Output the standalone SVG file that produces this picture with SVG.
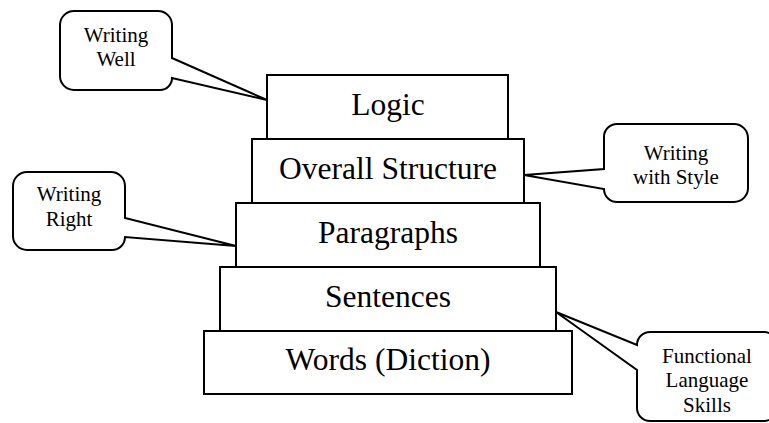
<svg xmlns="http://www.w3.org/2000/svg" width="769" height="423" viewBox="0 0 769 423">
<style>
.box{fill:#fff;stroke:#000;stroke-width:2}
.call{fill:#fff;stroke:#000;stroke-width:2;stroke-linejoin:miter}
.bt{font-size:31.5px;text-anchor:middle;fill:#000}
.ct{font-size:21px;text-anchor:middle;fill:#000}
</style>
<rect width="769" height="423" fill="#fff"/>
<g font-family="Liberation Serif, serif">
<g id="pyramid">
<g id="logic"><rect class="box" x="267" y="75" width="241" height="64"/><text class="bt" x="388" y="115">Logic</text></g>
<g id="overall"><rect class="box" x="252" y="139" width="272" height="64"/><text class="bt" x="388" y="179">Overall Structure</text></g>
<g id="paragraphs"><rect class="box" x="236" y="203" width="304" height="64"/><text class="bt" x="388" y="243">Paragraphs</text></g>
<g id="sentences"><rect class="box" x="220" y="267" width="336" height="64"/><text class="bt" x="388" y="307">Sentences</text></g>
<g id="words"><rect class="box" x="204" y="331" width="368" height="63"/><text class="bt" x="388" y="370">Words (Diction)</text></g>
</g>
<g id="connectors">
<g id="writing-well"><path class="call" d="M74,11 H158 A14,14 0 0 1 172,25 V58 L267,100 L172,78 A12,12 0 0 1 160,90 H74 A14,14 0 0 1 60,76 V25 A14,14 0 0 1 74,11 Z"/><text class="ct" x="116" y="42">Writing</text><text class="ct" x="116" y="66">Well</text></g>
<g id="writing-style"><path class="call" d="M618,124 H734 A14,14 0 0 1 748,138 V188 A14,14 0 0 1 734,202 H617 A13,13 0 0 1 604,189 L524,175 L604,169 V137 A13,13 0 0 1 617,124 Z"/><text class="ct" x="676" y="160">Writing</text><text class="ct" x="676" y="184">with Style</text></g>
<g id="writing-right"><path class="call" d="M27,172 H111 A14,14 0 0 1 125,186 V218 L236,246 L125,237 A13,13 0 0 1 112,250 H27 A14,14 0 0 1 13,236 V186 A14,14 0 0 1 27,172 Z"/><text class="ct" x="69" y="201">Writing</text><text class="ct" x="69" y="226">Right</text></g>
<g id="functional"><path class="call" d="M650,332 H764 A13,13 0 0 1 777,345 V408 A13,13 0 0 1 764,421 H650 A13,13 0 0 1 637,408 V370 L556,312 L637,345 A13,13 0 0 1 650,332 Z"/><text class="ct" x="707" y="363">Functional</text><text class="ct" x="707" y="387">Language</text><text class="ct" x="707" y="412">Skills</text></g>
</g>
</g>
</svg>
